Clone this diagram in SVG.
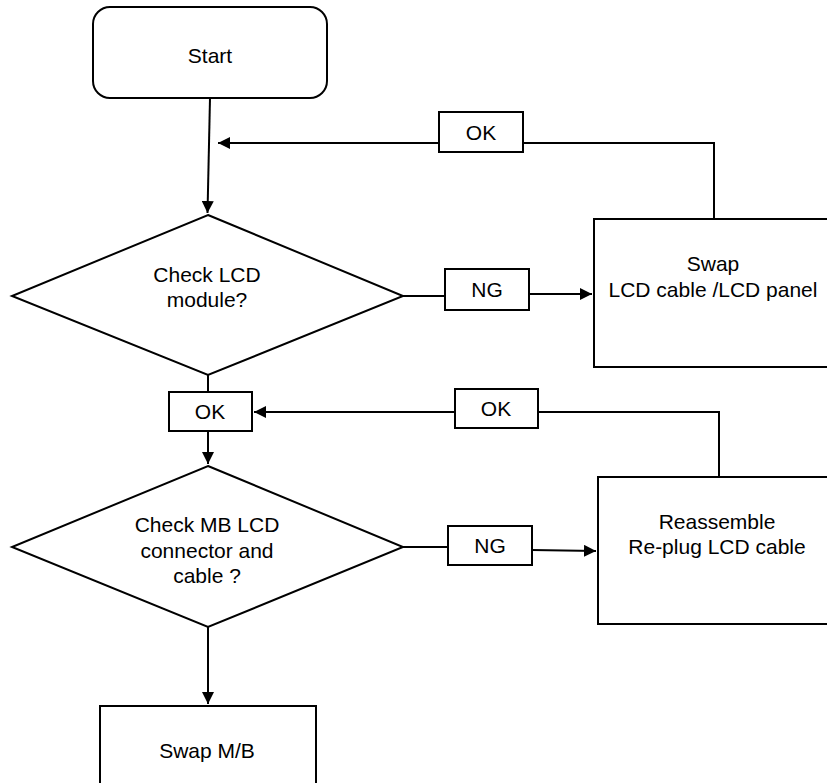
<svg xmlns="http://www.w3.org/2000/svg" width="827" height="783" viewBox="0 0 827 783">
<style>
.s{fill:#fff;stroke:#000;stroke-width:2}
.c{fill:none;stroke:#000;stroke-width:2}
text{font-family:"Liberation Sans",Arial,sans-serif;font-size:21px;fill:#000;text-anchor:middle}
</style>
<defs>
<marker id="a" viewBox="0 0 10 10" refX="10" refY="5" markerWidth="5.5" markerHeight="5.5" orient="auto" markerUnits="userSpaceOnUse">
<path d="M0,0 L10,5 L0,10 z" fill="#000"/>
</marker>
<marker id="ah" viewBox="0 0 10 10" refX="10" refY="5" markerWidth="12" markerHeight="12" orient="auto" markerUnits="userSpaceOnUse">
<path d="M0,0 L10,5 L0,10 z" fill="#000"/>
</marker>
</defs>
<rect width="827" height="783" fill="#fff"/>
<g id="connectors">
<path class="c" d="M210,98 L207.5,213" marker-end="url(#ah)"/>
<path class="c" d="M714,219 L714,143 L523,143"/>
<path class="c" d="M439,143 L218,143" marker-end="url(#ah)"/>
<path class="c" d="M403,296 L445,296"/>
<path class="c" d="M529,294 L592,294" marker-end="url(#ah)"/>
<path class="c" d="M208,375 L208,392"/>
<path class="c" d="M208,431 L208,464" marker-end="url(#ah)"/>
<path class="c" d="M719,477 L719,412 L538,412"/>
<path class="c" d="M455,412 L254,412" marker-end="url(#ah)"/>
<path class="c" d="M403,547 L448,547"/>
<path class="c" d="M532,550 L596,551" marker-end="url(#ah)"/>
<path class="c" d="M208,627 L208,704" marker-end="url(#ah)"/>
</g>
<g id="start">
<rect class="s" x="93" y="7" width="234" height="91" rx="17"/>
<text x="210" y="63">Start</text>
</g>
<g id="ok1">
<rect class="s" x="439" y="112" width="84" height="40"/>
<text x="481" y="140">OK</text>
</g>
<g id="check-lcd">
<polygon class="s" points="208,215 403,296 208,375 12,296"/>
<text x="207" y="282">Check LCD</text>
<text x="207" y="307">module?</text>
</g>
<g id="ng1">
<rect class="s" x="445" y="269" width="84" height="41"/>
<text x="487" y="297">NG</text>
</g>
<g id="swap-lcd">
<rect class="s" x="594" y="219" width="240" height="148"/>
<text x="713" y="271">Swap</text>
<text x="713" y="297">LCD cable /LCD panel</text>
</g>
<g id="ok2">
<rect class="s" x="169" y="392" width="83" height="39"/>
<text x="210" y="419">OK</text>
</g>
<g id="ok3">
<rect class="s" x="455" y="389" width="83" height="39"/>
<text x="496" y="416">OK</text>
</g>
<g id="check-mb">
<polygon class="s" points="208,466 403,547 208,627 12,547"/>
<text x="207" y="532">Check MB LCD</text>
<text x="207" y="558">connector and</text>
<text x="207" y="583">cable ?</text>
</g>
<g id="ng2">
<rect class="s" x="448" y="526" width="84" height="39"/>
<text x="490" y="553">NG</text>
</g>
<g id="reassemble">
<rect class="s" x="598" y="477" width="240" height="147"/>
<text x="717" y="529">Reassemble</text>
<text x="717" y="554">Re-plug LCD cable</text>
</g>
<g id="swap-mb">
<rect class="s" x="100" y="706" width="216" height="90"/>
<text x="207" y="758">Swap M/B</text>
</g>
</svg>
